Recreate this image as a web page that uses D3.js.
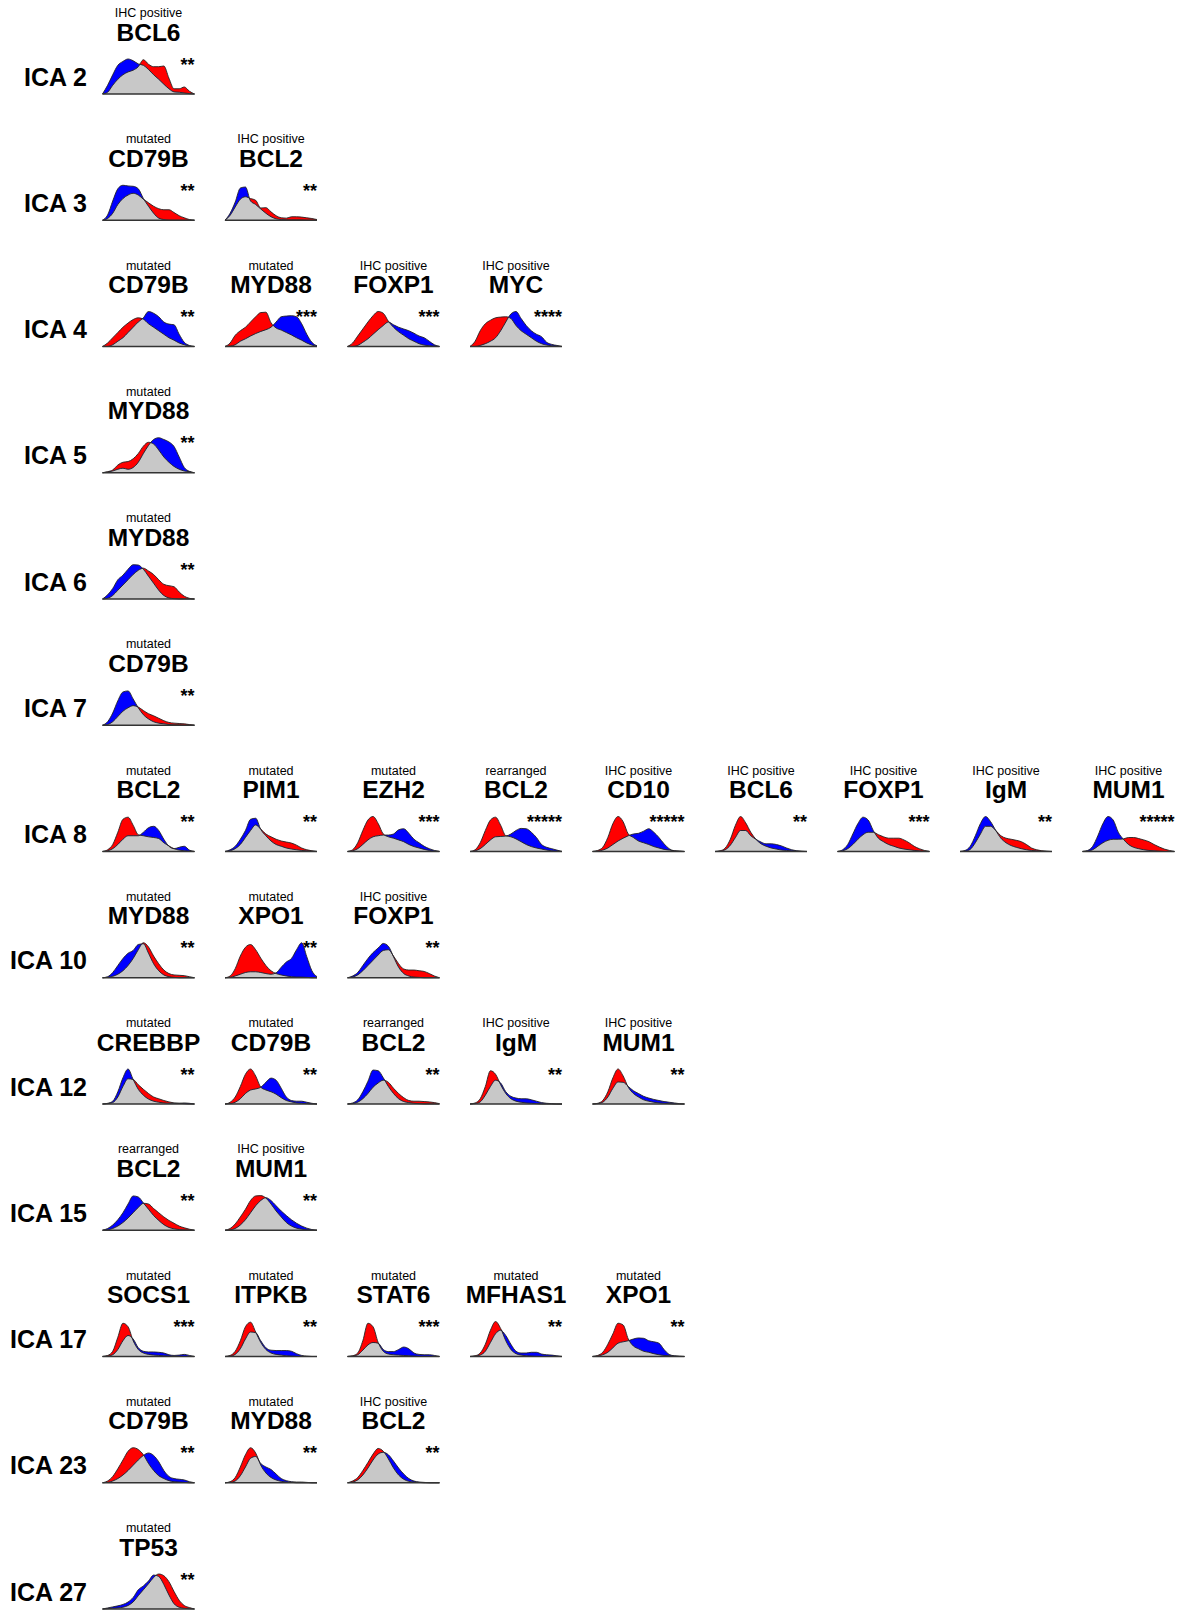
<!DOCTYPE html>
<html>
<head>
<meta charset="utf-8">
<script src="https://cdn.jsdelivr.net/npm/d3@7"></script>
<style>
  html, body { margin: 0; padding: 0; background: #fff; }
  text { font-family: "Liberation Sans", Arial, Helvetica, sans-serif; fill: #000; }
</style>
</head>
<body>
<div id="chart"></div>
<script>
// rows of the figure
const icaLabels = ['ICA 2', 'ICA 3', 'ICA 4', 'ICA 5', 'ICA 6', 'ICA 7', 'ICA 8',
    'ICA 10', 'ICA 12', 'ICA 15', 'ICA 17', 'ICA 23', 'ICA 27'];

// one entry per small panel
const panelIca = ['ICA 2', 'ICA 3', 'ICA 3', 'ICA 4', 'ICA 4', 'ICA 4', 'ICA 4', 'ICA 5', 'ICA 6', 'ICA 7',
    'ICA 8', 'ICA 8', 'ICA 8', 'ICA 8', 'ICA 8', 'ICA 8', 'ICA 8', 'ICA 8', 'ICA 8',
    'ICA 10', 'ICA 10', 'ICA 10', 'ICA 12', 'ICA 12', 'ICA 12', 'ICA 12', 'ICA 12',
    'ICA 15', 'ICA 15', 'ICA 17', 'ICA 17', 'ICA 17', 'ICA 17', 'ICA 17',
    'ICA 23', 'ICA 23', 'ICA 23', 'ICA 27'];
const panelKind = ['IHC positive', 'mutated', 'IHC positive', 'mutated', 'mutated', 'IHC positive', 'IHC positive',
    'mutated', 'mutated', 'mutated',
    'mutated', 'mutated', 'mutated', 'rearranged', 'IHC positive', 'IHC positive', 'IHC positive', 'IHC positive', 'IHC positive',
    'mutated', 'mutated', 'IHC positive', 'mutated', 'mutated', 'rearranged', 'IHC positive', 'IHC positive',
    'rearranged', 'IHC positive', 'mutated', 'mutated', 'mutated', 'mutated', 'mutated',
    'mutated', 'mutated', 'IHC positive', 'mutated'];
const panelGene = ['BCL6', 'CD79B', 'BCL2', 'CD79B', 'MYD88', 'FOXP1', 'MYC', 'MYD88', 'MYD88', 'CD79B',
    'BCL2', 'PIM1', 'EZH2', 'BCL2', 'CD10', 'BCL6', 'FOXP1', 'IgM', 'MUM1',
    'MYD88', 'XPO1', 'FOXP1', 'CREBBP', 'CD79B', 'BCL2', 'IgM', 'MUM1',
    'BCL2', 'MUM1', 'SOCS1', 'ITPKB', 'STAT6', 'MFHAS1', 'XPO1',
    'CD79B', 'MYD88', 'BCL2', 'TP53'];
const panelStars = ['**', '**', '**', '**', '***', '***', '****', '**', '**', '**',
    '**', '**', '***', '*****', '*****', '**', '***', '**', '*****',
    '**', '**', '**', '**', '**', '**', '**', '**',
    '**', '**', '***', '**', '***', '**', '**',
    '**', '**', '**', '**'];

// density of the two groups, read at 19 evenly spaced points of the score axis
const redDensity = [
    [0, .05, .25, .42, .55, .63, .68, .78, .98, .85, .78, .78, .8, .45, .15, .15, .2, .08, 0],
    [0, .05, .2, .45, .62, .72, .77, .72, .6, .5, .4, .33, .3, .3, .22, .13, .07, .02, 0],
    [0, .14, .38, .6, .67, .62, .57, .35, .36, .24, .13, .07, .06, .1, .1, .09, .07, .05, .02],
    [0, .1, .25, .4, .55, .67, .77, .82, .78, .65, .55, .45, .35, .25, .18, .1, .05, .01, 0],
    [0, .1, .32, .45, .55, .7, .85, .97, .98, .68, .53, .47, .4, .33, .25, .18, .1, .04, 0],
    [0, .1, .3, .5, .7, .88, 1, .95, .72, .55, .42, .32, .22, .15, .08, .04, .02, .01, 0],
    [0, .15, .45, .65, .75, .82, .84, .85, .8, .6, .45, .35, .25, .15, .08, .04, .02, .01, 0],
    [0, .03, .08, .22, .3, .32, .4, .55, .76, .87, .82, .65, .45, .3, .18, .1, .05, .03, 0],
    [0, .02, .1, .25, .4, .55, .7, .82, .88, .8, .7, .55, .42, .38, .35, .2, .08, .02, 0],
    [0, .02, .1, .25, .4, .5, .56, .52, .42, .33, .27, .2, .13, .08, .06, .05, .04, .02, 0],
    [0, .05, .2, .55, .92, .98, .75, .48, .45, .42, .4, .37, .25, .16, .08, .04, .02, .01, 0],
    [0, .02, .08, .2, .4, .6, .76, .64, .5, .42, .35, .3, .27, .24, .18, .1, .05, .02, 0],
    [0, .05, .25, .6, .9, 1, .8, .5, .42, .38, .33, .28, .2, .14, .1, .06, .03, .01, 0],
    [0, .05, .25, .6, .9, .98, .75, .45, .42, .36, .28, .2, .14, .1, .07, .04, .02, .01, 0],
    [0, .03, .12, .4, .8, 1, .85, .5, .4, .3, .25, .2, .14, .1, .06, .04, .02, .01, 0],
    [0, .02, .1, .35, .75, 1, .82, .55, .35, .22, .15, .1, .07, .04, .03, .02, .01, 0, 0],
    [0, .02, .08, .2, .35, .48, .55, .55, .48, .42, .38, .38, .38, .33, .25, .15, .08, .03, 0],
    [0, .01, .06, .25, .5, .72, .72, .6, .45, .38, .35, .32, .28, .2, .1, .05, .02, .01, 0],
    [0, .01, .05, .15, .25, .32, .35, .35, .36, .4, .4, .37, .33, .28, .2, .13, .07, .03, 0],
    [0, .01, .04, .1, .2, .35, .55, .8, 1, .88, .62, .4, .22, .12, .08, .07, .06, .03, 0],
    [0, .05, .26, .62, .87, .95, .8, .56, .35, .2, .12, .08, .05, .03, .02, .02, .01, 0, 0],
    [0, .02, .08, .2, .35, .5, .65, .78, .8, .62, .4, .25, .22, .22, .2, .18, .12, .05, 0],
    [0, .01, .04, .2, .5, .72, .7, .55, .42, .3, .2, .15, .1, .06, .03, .02, .01, 0, 0],
    [0, .05, .2, .5, .85, 1, .8, .48, .4, .35, .28, .18, .1, .06, .03, .02, .01, 0, 0],
    [0, .01, .05, .15, .3, .48, .6, .68, .62, .45, .3, .18, .1, .08, .08, .07, .06, .04, .01],
    [0, .03, .15, .5, .95, .85, .55, .3, .15, .08, .05, .03, .02, .01, 0, 0, 0, 0, 0],
    [0, .02, .1, .35, .75, 1, .8, .48, .3, .2, .12, .08, .05, .03, .02, .01, 0, 0, 0],
    [0, .01, .05, .12, .22, .35, .5, .65, .77, .75, .62, .5, .38, .28, .2, .12, .07, .03, 0],
    [0, .05, .18, .38, .6, .85, .98, .99, .92, .75, .55, .38, .22, .12, .06, .03, .01, 0, 0],
    [0, .03, .15, .55, .95, .85, .45, .2, .1, .06, .04, .03, .02, .01, 0, 0, 0, 0, 0],
    [0, .03, .15, .45, .85, .98, .7, .4, .2, .1, .06, .04, .02, .01, 0, 0, 0, 0, 0],
    [0, .02, .1, .45, .95, .85, .4, .15, .07, .05, .04, .03, .02, .01, 0, 0, 0, 0, 0],
    [0, .02, .1, .35, .75, 1, .8, .45, .2, .08, .04, .02, .01, 0, 0, 0, 0, 0, 0],
    [0, .03, .12, .35, .65, .95, .9, .5, .3, .22, .15, .12, .08, .05, .03, .02, .01, 0, 0],
    [0, .05, .18, .4, .65, .9, 1, .95, .8, .55, .35, .2, .12, .06, .03, .02, .01, 0, 0],
    [0, .03, .15, .45, .8, 1, .85, .5, .28, .15, .08, .04, .02, .01, 0, 0, 0, 0, 0],
    [0, .05, .15, .35, .58, .82, .98, .9, .68, .42, .22, .1, .04, .02, .01, 0, 0, 0, 0],
    [0, .01, .02, .03, .05, .1, .2, .38, .55, .72, .9, 1, .95, .78, .5, .25, .1, .04, 0]
];
const blueDensity = [
    [0, .25, .55, .82, .93, 1, .95, .86, .82, .7, .55, .42, .28, .15, .06, .05, .03, .01, 0],
    [0, .15, .55, .9, 1, .98, .97, .9, .62, .4, .2, .06, .02, 0, 0, 0, 0, 0, 0],
    [0, .2, .52, .92, .95, .55, .45, .32, .2, .1, .04, .02, .01, .01, .01, .01, 0, 0, 0],
    [0, 0, .05, .15, .25, .4, .55, .7, .82, 1, .95, .85, .7, .64, .62, .35, .12, .03, 0],
    [0, .01, .05, .15, .22, .3, .37, .43, .48, .55, .7, .85, .87, .88, .85, .65, .35, .12, .02],
    [0, 0, .03, .12, .22, .35, .48, .6, .7, .62, .55, .5, .45, .38, .3, .25, .15, .05, 0],
    [0, 0, .03, .08, .15, .25, .45, .7, .93, 1, .8, .6, .45, .35, .28, .12, .06, .03, 0],
    [0, .02, .05, .1, .13, .1, .15, .3, .55, .78, .95, 1, .95, .88, .75, .45, .15, .04, 0],
    [0, .12, .3, .55, .68, .85, .98, .97, .85, .65, .45, .25, .1, .03, .01, 0, 0, 0, 0],
    [0, .1, .35, .7, .95, .98, .75, .5, .3, .18, .1, .06, .04, .02, .01, .01, 0, 0, 0],
    [0, .02, .08, .2, .35, .45, .45, .45, .55, .68, .72, .6, .35, .15, .08, .12, .15, .04, 0],
    [0, .05, .15, .35, .6, .92, .95, .63, .45, .3, .2, .15, .1, .07, .05, .03, .02, .01, 0],
    [0, .02, .08, .2, .33, .42, .45, .47, .47, .5, .62, .65, .52, .35, .25, .15, .08, .03, 0],
    [0, .02, .08, .2, .33, .42, .43, .44, .5, .6, .66, .65, .55, .4, .2, .12, .08, .04, 0],
    [0, .01, .04, .1, .2, .3, .38, .45, .5, .52, .58, .65, .55, .4, .22, .08, .02, .01, 0],
    [0, .01, .05, .18, .4, .6, .6, .45, .35, .27, .22, .22, .2, .16, .1, .05, .02, .01, 0],
    [0, .05, .2, .5, .8, .98, .9, .6, .38, .28, .2, .15, .1, .07, .05, .03, .02, .01, 0],
    [0, .03, .15, .45, .8, 1, .85, .6, .38, .25, .17, .12, .08, .05, .03, .02, .01, 0, 0],
    [0, .03, .15, .45, .8, 1, .9, .55, .35, .2, .12, .08, .05, .03, .02, .01, 0, 0, 0],
    [0, .03, .15, .35, .55, .7, .78, .95, .97, .7, .4, .2, .08, .03, .01, 0, 0, 0, 0],
    [0, .01, .05, .1, .15, .17, .17, .15, .12, .1, .14, .3, .45, .55, .8, 1, .6, .2, .03],
    [0, .05, .15, .35, .55, .72, .85, .98, .9, .6, .3, .12, .05, .02, .01, 0, 0, 0, 0],
    [0, .02, .08, .35, .75, 1, .7, .42, .25, .14, .08, .05, .03, .02, .02, .02, .03, .02, 0],
    [0, .01, .05, .15, .3, .4, .43, .48, .62, .74, .68, .45, .2, .1, .08, .08, .05, .02, 0],
    [0, .03, .12, .35, .65, .97, .95, .75, .5, .3, .15, .07, .04, .02, .01, 0, 0, 0, 0],
    [0, .01, .06, .25, .5, .68, .6, .35, .22, .17, .15, .15, .12, .08, .04, .02, .01, 0, 0],
    [0, .01, .05, .2, .45, .63, .62, .5, .38, .3, .22, .17, .13, .1, .07, .05, .03, .01, 0],
    [0, .05, .15, .3, .5, .75, .98, .95, .78, .6, .42, .28, .16, .08, .04, .02, .01, 0, 0],
    [0, .01, .05, .15, .3, .5, .7, .85, .93, .85, .7, .55, .42, .3, .2, .12, .06, .02, 0],
    [0, .01, .05, .2, .45, .6, .5, .25, .15, .13, .13, .12, .1, .05, .03, .04, .06, .03, 0],
    [0, .01, .06, .22, .5, .7, .68, .45, .25, .18, .17, .17, .17, .15, .08, .03, .01, 0, 0],
    [0, .01, .05, .18, .33, .4, .38, .2, .14, .14, .2, .27, .22, .1, .06, .05, .05, .03, 0],
    [0, .01, .04, .15, .4, .65, .75, .6, .35, .15, .1, .1, .12, .12, .07, .05, .04, .02, 0],
    [0, .01, .05, .12, .25, .38, .42, .45, .5, .53, .52, .45, .42, .38, .2, .06, .02, .01, 0],
    [0, .01, .05, .12, .22, .35, .5, .65, .78, .85, .78, .6, .35, .18, .12, .1, .08, .03, 0],
    [0, .01, .05, .2, .45, .7, .75, .55, .45, .38, .25, .12, .06, .03, .02, .02, .01, 0, 0],
    [0, .02, .08, .22, .42, .65, .82, .87, .8, .62, .42, .25, .12, .05, .02, .01, 0, 0, 0],
    [0, .03, .06, .09, .13, .2, .33, .55, .66, .8, .97, .93, .7, .4, .15, .05, .02, .01, 0]
];

const width = 1177, height = 1610;
const firstBase = 94, rowStep = 126.25;
const firstLeft = 102.5, colStep = 122.5;
const plotW = 92, plotH = 35;

const gridX = d3.range(19).map(i => i / 18);

const svg = d3.select('#chart').append('svg')
    .attr('width', width)
    .attr('height', height)
    .style('background', '#fff');

const x = d3.scaleLinear().domain([0, 1]).range([0, plotW]);
const y = d3.scaleLinear().domain([0, 1]).range([0, -plotH]);

const area = d3.area()
    .x((d, i) => x(gridX[i]))
    .y0(y(0))
    .y1(d => y(d))
    .curve(d3.curveMonotoneX);
const line = d3.line()
    .x((d, i) => x(gridX[i]))
    .y(d => y(d))
    .curve(d3.curveMonotoneX);

const rowBase = label => firstBase + icaLabels.indexOf(label) * rowStep;

// row labels
svg.selectAll('text.ica')
    .data(icaLabels)
    .join('text')
    .attr('class', 'ica')
    .attr('x', 87)
    .attr('y', d => rowBase(d) - 8.5)
    .attr('text-anchor', 'end')
    .style('font-size', '25px')
    .style('font-weight', 'bold')
    .text(d => d);

const defs = svg.append('defs');
const colCount = {};

panelIca.forEach((ica, i) => {
    const col = colCount[ica] || 0;
    colCount[ica] = col + 1;
    const g = svg.append('g')
        .attr('transform', `translate(${firstLeft + col * colStep},${rowBase(ica)})`);

    g.append('text')
        .attr('x', plotW / 2)
        .attr('y', -77)
        .attr('text-anchor', 'middle')
        .style('font-size', '12.5px')
        .text(panelKind[i]);

    g.append('text')
        .attr('x', plotW / 2)
        .attr('y', -53.5)
        .attr('text-anchor', 'middle')
        .style('font-size', '24.5px')
        .style('font-weight', 'bold')
        .text(panelGene[i]);

    g.append('text')
        .attr('x', plotW)
        .attr('y', -23.3)
        .attr('text-anchor', 'end')
        .style('font-size', '18px')
        .style('font-weight', 'bold')
        .text(panelStars[i]);

    const red = redDensity[i];
    const blue = blueDensity[i];

    // overlap of the two groups shown in grey
    defs.append('clipPath')
        .attr('id', 'clip' + i)
        .append('path')
        .attr('d', area(blue));

    g.append('path').attr('d', area(red)).attr('fill', '#ff0000');
    g.append('path').attr('d', area(blue)).attr('fill', '#0000ff');
    g.append('path').attr('d', area(red)).attr('fill', '#c8c8c8')
        .attr('clip-path', `url(#clip${i})`);

    [red, blue].forEach(s => {
        g.append('path')
            .attr('d', line(s))
            .attr('fill', 'none')
            .attr('stroke', '#222')
            .attr('stroke-width', 0.9);
    });

    g.append('line')
        .attr('x1', 0).attr('x2', plotW)
        .attr('y1', 0).attr('y2', 0)
        .attr('stroke', '#333')
        .attr('stroke-width', 1.4);
});
</script>
</body>
</html>
